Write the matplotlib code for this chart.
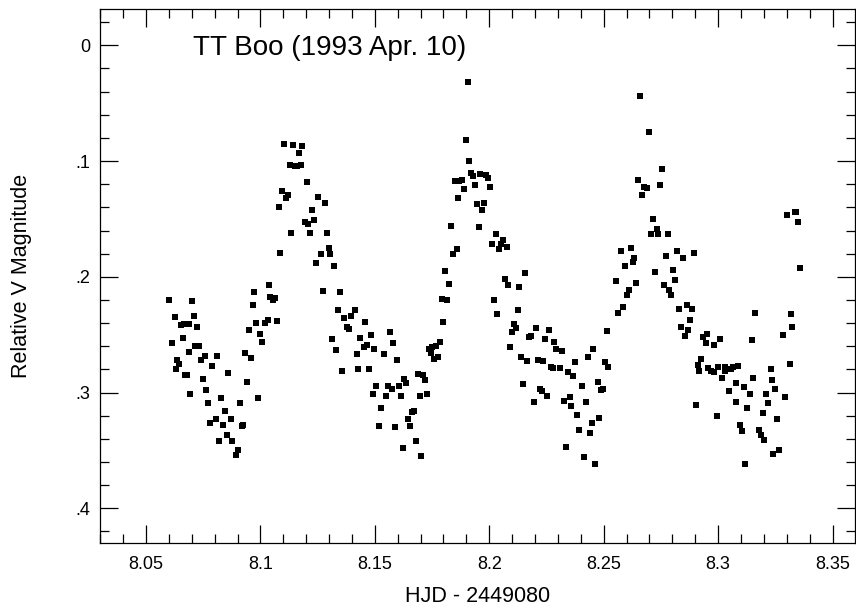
"""
TT Boo light curve, 1993 Apr. 10 -- relative V magnitude vs HJD.
"""

import matplotlib
matplotlib.use("Agg")
import matplotlib.pyplot as plt
from matplotlib.ticker import MultipleLocator, FuncFormatter
import numpy as np

# ── Data (HJD - 2449080, relative V magnitude) ────────────────────────────────

# first minimum (8.06 - 8.10)
hjd_a = [8.0602, 8.0702, 8.1036, 8.0973, 8.1042, 8.0969, 8.0628, 8.0711,
         8.0652, 8.0667, 8.0687, 8.0724, 8.1033, 8.0982, 8.1021, 8.0951,
         8.0663, 8.1000, 8.0615, 8.1008, 8.0715, 8.0732, 8.0689, 8.0759,
         8.0812, 8.0934, 8.0960, 8.0637, 8.0646, 8.0742, 8.0790, 8.0632,
         8.0860, 8.0672, 8.0681, 8.0750, 8.0943, 8.0764, 8.0694, 8.0829,
         8.0991, 8.0772, 8.0912, 8.0847, 8.0807, 8.0873, 8.0781, 8.0838,
         8.0921, 8.0925, 8.0855, 8.0820, 8.0877, 8.0903, 8.0895]
dv_a = [0.220, 0.221, 0.207, 0.213, 0.217, 0.224, 0.235, 0.234,
        0.242, 0.241, 0.241, 0.243, 0.237, 0.240, 0.240, 0.246,
        0.253, 0.249, 0.257, 0.256, 0.260, 0.260, 0.265, 0.268,
        0.268, 0.266, 0.270, 0.272, 0.275, 0.272, 0.277, 0.280,
        0.283, 0.285, 0.285, 0.288, 0.291, 0.298, 0.301, 0.305,
        0.305, 0.309, 0.309, 0.316, 0.323, 0.323, 0.326, 0.328,
        0.329, 0.328, 0.337, 0.342, 0.342, 0.350, 0.354]

# first maximum and descent (8.105 - 8.15)
hjd_b = [8.1104, 8.1144, 8.1183, 8.1170, 8.1131, 8.1153, 8.1161, 8.1179,
         8.1205, 8.1096, 8.1122, 8.1113, 8.1253, 8.1284, 8.1083, 8.1227,
         8.1196, 8.1209, 8.1236, 8.1135, 8.1218, 8.1292, 8.1301, 8.1266,
         8.1306, 8.1087, 8.1244, 8.1323, 8.1275, 8.1349, 8.1056, 8.1065,
         8.1340, 8.1415, 8.1367, 8.1397, 8.1458, 8.1380, 8.1389, 8.1074,
         8.1314, 8.1437, 8.1485, 8.1332, 8.1454, 8.1467, 8.1498, 8.1424,
         8.1358, 8.1428, 8.1476]
dv_b = [0.085, 0.086, 0.087, 0.093, 0.103, 0.104, 0.104, 0.103,
        0.118, 0.126, 0.129, 0.132, 0.131, 0.136, 0.140, 0.142,
        0.153, 0.154, 0.151, 0.162, 0.162, 0.162, 0.175, 0.180,
        0.180, 0.179, 0.188, 0.191, 0.212, 0.213, 0.220, 0.218,
        0.229, 0.229, 0.236, 0.234, 0.239, 0.243, 0.245, 0.238,
        0.254, 0.253, 0.250, 0.263, 0.261, 0.259, 0.262, 0.267,
        0.281, 0.280, 0.280]

# second minimum (8.15 - 8.19)
hjd_c = [8.1861, 8.1843, 8.1808, 8.1826, 8.1795, 8.1817, 8.1799, 8.1786,
         8.1738, 8.1751, 8.1769, 8.1747, 8.1778, 8.1760, 8.1568, 8.1581,
         8.1542, 8.1598, 8.1629, 8.1638, 8.1690, 8.1712, 8.1721, 8.1507,
         8.1559, 8.1576, 8.1607, 8.1493, 8.1550, 8.1616, 8.1699, 8.1730,
         8.1528, 8.1673, 8.1664, 8.1646, 8.1520, 8.1590, 8.1655, 8.1681,
         8.1625, 8.1703]
dv_c = [0.176, 0.180, 0.195, 0.206, 0.219, 0.220, 0.239, 0.256,
        0.262, 0.261, 0.260, 0.266, 0.269, 0.271, 0.248, 0.257,
        0.267, 0.272, 0.288, 0.292, 0.284, 0.285, 0.289, 0.294,
        0.294, 0.297, 0.294, 0.301, 0.303, 0.303, 0.303, 0.301,
        0.313, 0.316, 0.317, 0.323, 0.329, 0.330, 0.329, 0.342,
        0.348, 0.355]

# second maximum (8.18 - 8.215)
hjd_d = [8.1909, 8.1900, 8.1913, 8.1922, 8.1931, 8.1961, 8.1987, 8.1996,
         8.1852, 8.1869, 8.1882, 8.1891, 8.1939, 8.2005, 8.1865, 8.1948,
         8.1979, 8.1970, 8.1834, 8.1957, 8.2031, 8.2062, 8.2014, 8.2053,
         8.2044, 8.2079, 8.2158, 8.2070, 8.2083, 8.2132, 8.2022, 8.2035,
         8.2127]
dv_d = [0.032, 0.082, 0.100, 0.110, 0.113, 0.111, 0.112, 0.115,
        0.117, 0.117, 0.116, 0.124, 0.121, 0.122, 0.132, 0.137,
        0.136, 0.142, 0.156, 0.157, 0.163, 0.168, 0.172, 0.172,
        0.176, 0.174, 0.197, 0.202, 0.207, 0.209, 0.220, 0.232,
        0.229]

# third minimum (8.21 - 8.255)
hjd_e = [8.2110, 8.2118, 8.2101, 8.2206, 8.2263, 8.2184, 8.2175, 8.2245,
         8.2285, 8.2516, 8.2092, 8.2293, 8.2320, 8.2455, 8.2140, 8.2167,
         8.2215, 8.2236, 8.2433, 8.2376, 8.2507, 8.2521, 8.2271, 8.2280,
         8.2311, 8.2346, 8.2368, 8.2149, 8.2407, 8.2473, 8.2499, 8.2490,
         8.2223, 8.2232, 8.2254, 8.2197, 8.2328, 8.2354, 8.2359, 8.2424,
         8.2385, 8.2481, 8.2451, 8.2394, 8.2442, 8.2337, 8.2416, 8.2464]
dv_e = [0.241, 0.244, 0.248, 0.244, 0.246, 0.251, 0.252, 0.254,
        0.256, 0.247, 0.261, 0.262, 0.264, 0.262, 0.269, 0.273,
        0.272, 0.273, 0.269, 0.274, 0.274, 0.278, 0.278, 0.279,
        0.279, 0.282, 0.286, 0.293, 0.294, 0.291, 0.297, 0.298,
        0.297, 0.299, 0.303, 0.308, 0.307, 0.304, 0.312, 0.308,
        0.319, 0.322, 0.326, 0.332, 0.335, 0.347, 0.356, 0.362]

# third maximum (8.255 - 8.29)
hjd_f = [8.2660, 8.2700, 8.2757, 8.2652, 8.2678, 8.2691, 8.2748, 8.2669,
         8.2717, 8.2735, 8.2708, 8.2739, 8.2783, 8.2621, 8.2577, 8.2634,
         8.2626, 8.2595, 8.2774, 8.2822, 8.2848, 8.2896, 8.2726, 8.2805,
         8.2555, 8.2643, 8.2813, 8.2612, 8.2604, 8.2765, 8.2787, 8.2796,
         8.2586, 8.2564, 8.2862, 8.2831, 8.2888, 8.2879, 8.2840, 8.2870]
dv_f = [0.044, 0.075, 0.107, 0.116, 0.122, 0.123, 0.121, 0.129,
        0.150, 0.159, 0.163, 0.163, 0.163, 0.175, 0.178, 0.184,
        0.187, 0.191, 0.182, 0.178, 0.184, 0.179, 0.196, 0.194,
        0.204, 0.205, 0.203, 0.211, 0.216, 0.207, 0.211, 0.216,
        0.226, 0.231, 0.224, 0.228, 0.228, 0.237, 0.243, 0.246]

# last minimum and rise (8.285 - 8.336)
hjd_g = [8.3303, 8.3334, 8.3342, 8.3351, 8.3360, 8.2857, 8.3163, 8.3320,
         8.3325, 8.3285, 8.2953, 8.2936, 8.2945, 8.3010, 8.2980, 8.3146,
         8.2927, 8.2910, 8.2918, 8.2958, 8.2971, 8.2984, 8.3001, 8.3028,
         8.3032, 8.3058, 8.3067, 8.3089, 8.3019, 8.3076, 8.3115, 8.3154,
         8.3229, 8.3237, 8.3312, 8.3250, 8.3049, 8.3141, 8.3211, 8.3294,
         8.3080, 8.3128, 8.3220, 8.2905, 8.2993, 8.3194, 8.3259, 8.3097,
         8.3106, 8.3180, 8.3189, 8.3202, 8.3242, 8.3268, 8.3118]
dv_g = [0.147, 0.144, 0.144, 0.153, 0.192, 0.251, 0.231, 0.232,
        0.243, 0.250, 0.249, 0.252, 0.257, 0.254, 0.259, 0.255,
        0.271, 0.276, 0.281, 0.279, 0.281, 0.282, 0.278, 0.278,
        0.281, 0.280, 0.278, 0.277, 0.287, 0.292, 0.295, 0.287,
        0.280, 0.289, 0.275, 0.297, 0.299, 0.301, 0.301, 0.304,
        0.308, 0.313, 0.309, 0.311, 0.320, 0.318, 0.323, 0.328,
        0.333, 0.332, 0.337, 0.341, 0.353, 0.350, 0.362]

hjd = np.concatenate([hjd_a, hjd_b, hjd_c, hjd_d, hjd_e, hjd_f, hjd_g])
dv = np.concatenate([dv_a, dv_b, dv_c, dv_d, dv_e, dv_f, dv_g])
assert len(hjd) == len(dv)

# ── Plot ──────────────────────────────────────────────────────────────────────

plt.rcParams["font.family"] = ["Liberation Sans", "DejaVu Sans"]

fig = plt.figure(figsize=(8.56, 6.09), dpi=100)
ax = fig.add_axes([100 / 856, 1 - 543.3 / 609, 754.5 / 856, 534 / 609])

ax.plot(hjd, dv, ls="none", marker="s", ms=4.1, mew=0, color="black")

ax.set_xlim(8.0299, 8.3596)
ax.set_ylim(0.4302, -0.0311)

ax.xaxis.set_major_locator(MultipleLocator(0.05))
ax.xaxis.set_minor_locator(MultipleLocator(0.01))
ax.yaxis.set_major_locator(MultipleLocator(0.1))
ax.yaxis.set_minor_locator(MultipleLocator(0.02))
ax.xaxis.set_major_formatter(FuncFormatter(lambda v, p: f"{v:g}"))
ax.yaxis.set_major_formatter(
    FuncFormatter(lambda v, p: "0" if abs(v) < 1e-9 else f"{v:.1f}".lstrip("0")))

ax.tick_params(which="both", direction="in", top=True, right=True,
               width=0.9, labelsize=13)
ax.tick_params(which="major", length=13.3)
ax.tick_params(which="minor", length=6.7)
ax.tick_params(axis="x", pad=9)
ax.tick_params(axis="y", pad=7)
for s in ax.spines.values():
    s.set_linewidth(0.9)

ax.set_xlabel("HJD - 2449080", fontsize=15.5, va="baseline")
ax.xaxis.set_label_coords(0.5, -(602.5 - 543.3) / 534)
ax.set_ylabel("Relative V Magnitude", fontsize=15.5)
ax.yaxis.set_label_coords(-0.090, 0.5)

ax.text(8.0705, 0.0084, "TT Boo (1993 Apr. 10)", fontsize=20, va="baseline")

fig.savefig("out.png", dpi=100)
